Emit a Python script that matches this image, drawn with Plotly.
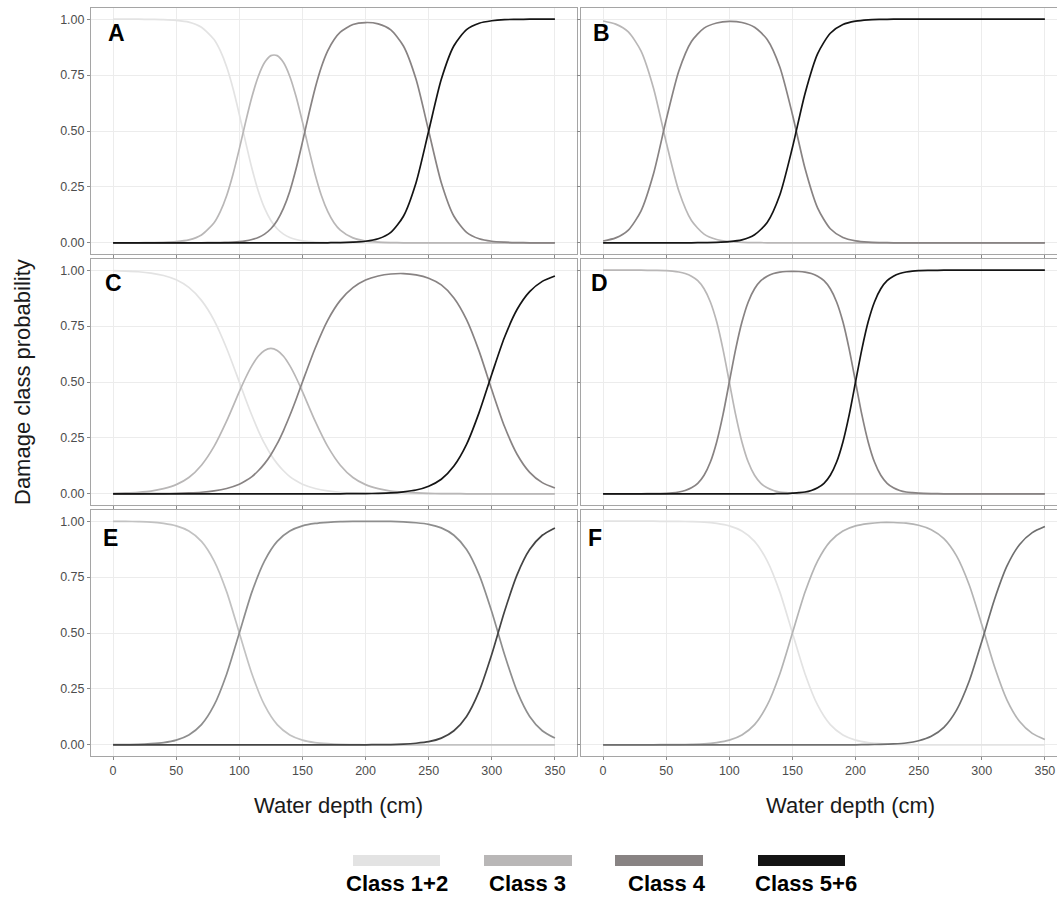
import plotly.graph_objects as go

# Water depth grids (cm); finer steps where the curves bend sharply
depth_10cm = [0, 10, 20, 30, 40, 50, 60, 70, 80, 90, 100, 110, 120, 130, 140, 150, 160, 170,
              180, 190, 200, 210, 220, 230, 240, 250, 260, 270, 280, 290, 300, 310, 320, 330, 340, 350]
depth_a = [0, 10, 20, 30, 40, 50, 60, 70, 80, 85, 90, 95, 100, 105, 110, 115, 120, 125, 130, 135,
           140, 145, 150, 155, 160, 165, 170, 175, 180, 190, 200, 210, 220, 230, 240, 250, 260, 270,
           280, 290, 300, 310, 320, 330, 340, 350]
depth_c = [0, 10, 20, 30, 40, 50, 60, 70, 80, 90, 100, 105, 110, 115, 120, 125, 130, 135, 140, 145,
           150, 160, 170, 180, 190, 200, 210, 220, 230, 240, 250, 260, 270, 280, 290, 300, 310, 320,
           330, 340, 350]
depth_d = [0, 10, 20, 30, 40, 50, 55, 60, 65, 70, 75, 80, 85, 90, 95, 100, 105, 110, 115, 120,
           125, 130, 135, 140, 145, 150, 155, 160, 165, 170, 175, 180, 185, 190, 195, 200, 205, 210,
           215, 220, 225, 230, 235, 240, 245, 250, 260, 270, 280, 290, 300, 310, 320, 330, 340, 350]

class_labels = ["Class 1+2", "Class 3", "Class 4", "Class 5+6"]
class_colors = ["#e3e3e3", "#b9b7b7", "#888383", "#141414"]

# Panel A (depth_a)
a_class12 = [1.000, 1.000, 1.000, 0.999, 0.998, 0.995, 0.987, 0.964, 0.909, 0.858, 0.786, 0.690,
             0.574, 0.450, 0.332, 0.232, 0.155, 0.100, 0.063, 0.039, 0.024, 0.015, 0.009, 0.006,
             0.003, 0.002, 0.001, 0.001, 0, 0, 0, 0, 0, 0, 0, 0,
             0, 0, 0, 0, 0, 0, 0, 0, 0, 0]
a_class3 = [0, 0, 0, 0.001, 0.002, 0.005, 0.013, 0.035, 0.090, 0.141, 0.212, 0.307,
            0.420, 0.541, 0.653, 0.744, 0.806, 0.837, 0.837, 0.806, 0.744, 0.653, 0.541, 0.420,
            0.307, 0.212, 0.141, 0.090, 0.057, 0.022, 0.008, 0.003, 0.001, 0, 0, 0,
            0, 0, 0, 0, 0, 0, 0, 0, 0, 0]
a_class4 = [0, 0, 0, 0, 0, 0, 0, 0, 0.001, 0.001, 0.002, 0.003,
            0.005, 0.009, 0.015, 0.024, 0.039, 0.063, 0.100, 0.155, 0.231, 0.332, 0.450, 0.574,
            0.690, 0.786, 0.858, 0.908, 0.942, 0.976, 0.985, 0.979, 0.952, 0.880, 0.731, 0.500,
            0.269, 0.119, 0.047, 0.018, 0.007, 0.003, 0.001, 0, 0, 0]
a_class56 = [0, 0, 0, 0, 0, 0, 0, 0, 0, 0, 0, 0,
             0, 0, 0, 0, 0, 0, 0, 0, 0, 0, 0, 0,
             0, 0, 0, 0.001, 0.001, 0.003, 0.007, 0.018, 0.047, 0.119, 0.269, 0.500,
             0.731, 0.881, 0.953, 0.982, 0.993, 0.998, 0.999, 1.000, 1.000, 1.000]

# Panel B (depth_10cm)
b_class3 = [0.992, 0.978, 0.943, 0.858, 0.690, 0.450, 0.232, 0.100, 0.039, 0.015, 0.006, 0.002,
            0.001, 0, 0, 0, 0, 0, 0, 0, 0, 0, 0, 0,
            0, 0, 0, 0, 0, 0, 0, 0, 0, 0, 0, 0]
b_class4 = [0.008, 0.022, 0.057, 0.142, 0.310, 0.550, 0.768, 0.900, 0.960, 0.983, 0.990, 0.985,
            0.964, 0.909, 0.786, 0.574, 0.332, 0.155, 0.063, 0.024, 0.009, 0.003, 0.001, 0,
            0, 0, 0, 0, 0, 0, 0, 0, 0, 0, 0, 0]
b_class56 = [0, 0, 0, 0, 0, 0, 0, 0, 0.001, 0.002, 0.005, 0.013,
             0.036, 0.091, 0.214, 0.426, 0.668, 0.846, 0.937, 0.976, 0.991, 0.997, 0.999, 1.000,
             1.000, 1.000, 1.000, 1.000, 1.000, 1.000, 1.000, 1.000, 1.000, 1.000, 1.000, 1.000]

# Panel C (depth_c)
c_class12 = [0.998, 0.996, 0.993, 0.987, 0.976, 0.957, 0.923, 0.865, 0.776, 0.650, 0.500,
             0.423, 0.350, 0.283, 0.224, 0.175, 0.135, 0.103, 0.077, 0.058, 0.043,
             0.024, 0.013, 0.007, 0.004, 0.002, 0.001, 0.001, 0, 0, 0,
             0, 0, 0, 0, 0, 0, 0, 0, 0, 0]
c_class3 = [0.002, 0.004, 0.007, 0.012, 0.023, 0.041, 0.073, 0.128, 0.212, 0.326, 0.457,
            0.519, 0.573, 0.615, 0.641, 0.650, 0.641, 0.615, 0.573, 0.519, 0.457,
            0.326, 0.212, 0.128, 0.073, 0.041, 0.023, 0.012, 0.007, 0.004, 0.002,
            0.001, 0.001, 0, 0, 0, 0, 0, 0, 0, 0]
c_class4 = [0, 0, 0, 0.001, 0.001, 0.002, 0.004, 0.007, 0.013, 0.024, 0.043,
            0.058, 0.077, 0.103, 0.135, 0.175, 0.224, 0.283, 0.350, 0.423, 0.500,
            0.650, 0.776, 0.865, 0.922, 0.956, 0.974, 0.983, 0.985, 0.979, 0.964,
            0.934, 0.876, 0.779, 0.637, 0.465, 0.302, 0.177, 0.096, 0.050, 0.026]
c_class56 = [0, 0, 0, 0, 0, 0, 0, 0, 0, 0, 0,
             0, 0, 0, 0, 0, 0, 0, 0, 0, 0,
             0, 0, 0, 0.001, 0.001, 0.002, 0.004, 0.009, 0.017, 0.034,
             0.065, 0.124, 0.221, 0.364, 0.535, 0.699, 0.824, 0.904, 0.950, 0.974]

# Panel D (depth_d)
d_class3 = [1.000, 1.000, 1.000, 1.000, 0.999, 0.998,
            0.996, 0.992, 0.985, 0.973, 0.953, 0.917, 0.858, 0.769, 0.646, 0.500,
            0.354, 0.232, 0.142, 0.083, 0.047, 0.027, 0.015, 0.008, 0.005, 0.003,
            0.001, 0.001, 0, 0, 0, 0, 0, 0, 0, 0,
            0, 0, 0, 0, 0, 0, 0, 0, 0, 0,
            0, 0, 0, 0, 0, 0, 0, 0, 0, 0]
d_class4 = [0, 0, 0, 0, 0.001, 0.002,
            0.004, 0.008, 0.015, 0.027, 0.047, 0.083, 0.142, 0.232, 0.354, 0.500,
            0.646, 0.768, 0.858, 0.917, 0.953, 0.973, 0.985, 0.991, 0.994, 0.995,
            0.994, 0.991, 0.985, 0.973, 0.953, 0.917, 0.858, 0.769, 0.646, 0.500,
            0.354, 0.232, 0.142, 0.083, 0.047, 0.027, 0.015, 0.008, 0.005, 0.003,
            0.001, 0, 0, 0, 0, 0, 0, 0, 0, 0]
d_class56 = [0, 0, 0, 0, 0, 0,
             0, 0, 0, 0, 0, 0, 0, 0, 0, 0,
             0, 0, 0, 0, 0, 0, 0, 0.001, 0.001, 0.003,
             0.005, 0.008, 0.015, 0.027, 0.047, 0.083, 0.142, 0.232, 0.354, 0.500,
             0.646, 0.769, 0.858, 0.917, 0.953, 0.973, 0.985, 0.992, 0.996, 0.998,
             0.999, 1.000, 1.000, 1.000, 1.000, 1.000, 1.000, 1.000, 1.000, 1.000]

# Panel E (depth_10cm)
e_class3 = [0.999, 0.999, 0.998, 0.996, 0.990, 0.979, 0.956, 0.910, 0.823, 0.684, 0.500, 0.317,
            0.177, 0.090, 0.044, 0.021, 0.010, 0.005, 0.002, 0.001, 0, 0, 0, 0,
            0, 0, 0, 0, 0, 0, 0, 0, 0, 0, 0, 0]
e_class4 = [0.001, 0.001, 0.002, 0.005, 0.010, 0.021, 0.044, 0.090, 0.177, 0.317, 0.500, 0.684,
            0.823, 0.910, 0.956, 0.979, 0.990, 0.995, 0.998, 0.999, 0.999, 0.999, 0.999, 0.997,
            0.993, 0.986, 0.970, 0.937, 0.873, 0.760, 0.595, 0.405, 0.240, 0.127, 0.063, 0.030]
e_class56 = [0, 0, 0, 0, 0, 0, 0, 0, 0, 0, 0, 0,
             0, 0, 0, 0, 0, 0, 0, 0, 0, 0.001, 0.001, 0.003,
             0.007, 0.014, 0.030, 0.063, 0.127, 0.240, 0.405, 0.595, 0.760, 0.873, 0.937, 0.970]

# Panel F (depth_10cm)
f_class12 = [1.000, 1.000, 1.000, 1.000, 1.000, 0.999, 0.999, 0.998, 0.996, 0.990, 0.979, 0.956,
             0.910, 0.823, 0.684, 0.500, 0.317, 0.177, 0.090, 0.044, 0.021, 0.010, 0.005, 0.002,
             0.001, 0, 0, 0, 0, 0, 0, 0, 0, 0, 0, 0]
f_class3 = [0, 0, 0, 0, 0, 0.001, 0.001, 0.002, 0.004, 0.010, 0.021, 0.044,
            0.090, 0.177, 0.317, 0.500, 0.683, 0.823, 0.910, 0.956, 0.979, 0.989, 0.994, 0.994,
            0.991, 0.982, 0.962, 0.922, 0.845, 0.716, 0.538, 0.351, 0.200, 0.104, 0.051, 0.024]
f_class4 = [0, 0, 0, 0, 0, 0, 0, 0, 0, 0, 0, 0,
            0, 0, 0, 0, 0, 0, 0, 0, 0, 0.001, 0.002, 0.004,
            0.008, 0.018, 0.038, 0.078, 0.155, 0.284, 0.462, 0.649, 0.800, 0.896, 0.949, 0.976]

x_ticks = [0, 50, 100, 150, 200, 250, 300, 350]
y_ticks = [0, 0.25, 0.5, 0.75, 1.0]

# (panel letter, depth grid, [(values, colour), ...]) drawn lightest class first
panels = [
    ("A", depth_a, [(a_class12, class_colors[0]), (a_class3, class_colors[1]),
                    (a_class4, class_colors[2]), (a_class56, class_colors[3])]),
    ("B", depth_10cm, [(b_class3, class_colors[1]), (b_class4, class_colors[2]),
                       (b_class56, class_colors[3])]),
    ("C", depth_c, [(c_class12, class_colors[0]), (c_class3, class_colors[1]),
                    (c_class4, class_colors[2]), (c_class56, class_colors[3])]),
    ("D", depth_d, [(d_class3, class_colors[1]), (d_class4, class_colors[2]),
                    (d_class56, class_colors[3])]),
    ("E", depth_10cm, [(e_class3, "#c2c2c2"), (e_class4, "#8e8e8e"), (e_class56, "#444444")]),
    ("F", depth_10cm, [(f_class12, "#e3e3e3"), (f_class3, "#b4b4b4"), (f_class4, "#6f6f6f")]),
]

W, H = 1057, 900
col_px = [(91, 577), (581, 1057)]
row_px = [(8, 254), (259, 505), (510, 756)]
x_ranges = [[-17.5, 367.5], [-17.5, 359.6]]
letter_px = [(106, 33), (591, 33), (103, 283), (589, 283), (101, 538), (586, 538)]

FONT = "Liberation Sans, Arial, sans-serif"

fig = go.Figure()
layout = {}
annotations = []

for i, (letter, depth, series) in enumerate(panels):
    r, c = divmod(i, 2)
    n = i + 1
    xa = "x" if n == 1 else f"x{n}"
    ya = "y" if n == 1 else f"y{n}"
    for values, color in series:
        fig.add_trace(go.Scatter(
            x=depth, y=values, mode="lines",
            line=dict(color=color, width=1.7, shape="spline", smoothing=0.7),
            xaxis=xa, yaxis=ya, showlegend=False, hoverinfo="skip"))

    x0, x1 = col_px[c]
    y0, y1 = row_px[r]
    layout["xaxis" if n == 1 else f"xaxis{n}"] = dict(
        domain=[x0 / W, x1 / W], range=x_ranges[c], anchor=ya,
        tickvals=x_ticks, showticklabels=(r == 2),
        ticks="outside", ticklen=3, tickcolor="#8a8a8a",
        showgrid=True, gridcolor="#ececec", gridwidth=1, zeroline=False,
        showline=True, linecolor="#a5a5a5", linewidth=1, mirror=True,
        tickfont=dict(family=FONT, size=12.5, color="#4d4d4d"))
    layout["yaxis" if n == 1 else f"yaxis{n}"] = dict(
        domain=[1 - y1 / H, 1 - y0 / H], range=[-0.05, 1.05], anchor=xa,
        tickvals=y_ticks, tickformat=".2f", showticklabels=(c == 0),
        ticks="outside", ticklen=3, tickcolor="#8a8a8a",
        showgrid=True, gridcolor="#ececec", gridwidth=1, zeroline=False,
        showline=True, linecolor="#a5a5a5", linewidth=1, mirror=(c == 0),
        tickfont=dict(family=FONT, size=12.5, color="#4d4d4d"))

    lx, ly = letter_px[i]
    annotations.append(dict(
        text=f"<b>{letter}</b>", xref="paper", yref="paper",
        x=lx / W, y=1 - ly / H, xanchor="left", yanchor="middle", showarrow=False,
        font=dict(family=FONT, size=23, color="#000000")))

# Axis titles
for cx in (338, 850):
    annotations.append(dict(
        text="Water depth (cm)", xref="paper", yref="paper",
        x=cx / W, y=1 - 805 / H, xanchor="center", yanchor="middle", showarrow=False,
        font=dict(family=FONT, size=22, color="#1a1a1a")))
annotations.append(dict(
    text="Damage class probability", xref="paper", yref="paper",
    x=23 / W, y=1 - 382 / H, xanchor="center", yanchor="middle", showarrow=False,
    textangle=-90, font=dict(family=FONT, size=22, color="#1a1a1a")))

# Class key along the bottom
key_swatches = [(353, 440), (484, 572), (615, 703), (758, 845)]
key_label_x = [397, 527, 667, 806]
shapes = []
for (sx0, sx1), lx, label, color in zip(key_swatches, key_label_x, class_labels, class_colors):
    shapes.append(dict(
        type="rect", xref="paper", yref="paper",
        x0=sx0 / W, x1=sx1 / W, y0=1 - 866 / H, y1=1 - 855 / H,
        fillcolor=color, line=dict(width=0)))
    annotations.append(dict(
        text=f"<b>{label}</b>", xref="paper", yref="paper",
        x=lx / W, y=1 - 883 / H, xanchor="center", yanchor="middle", showarrow=False,
        font=dict(family=FONT, size=22, color="#000000")))

fig.update_layout(
    width=W, height=H, margin=dict(l=0, r=0, t=0, b=0),
    paper_bgcolor="white", plot_bgcolor="white",
    annotations=annotations, shapes=shapes, **layout)

fig.write_html("out.html")
